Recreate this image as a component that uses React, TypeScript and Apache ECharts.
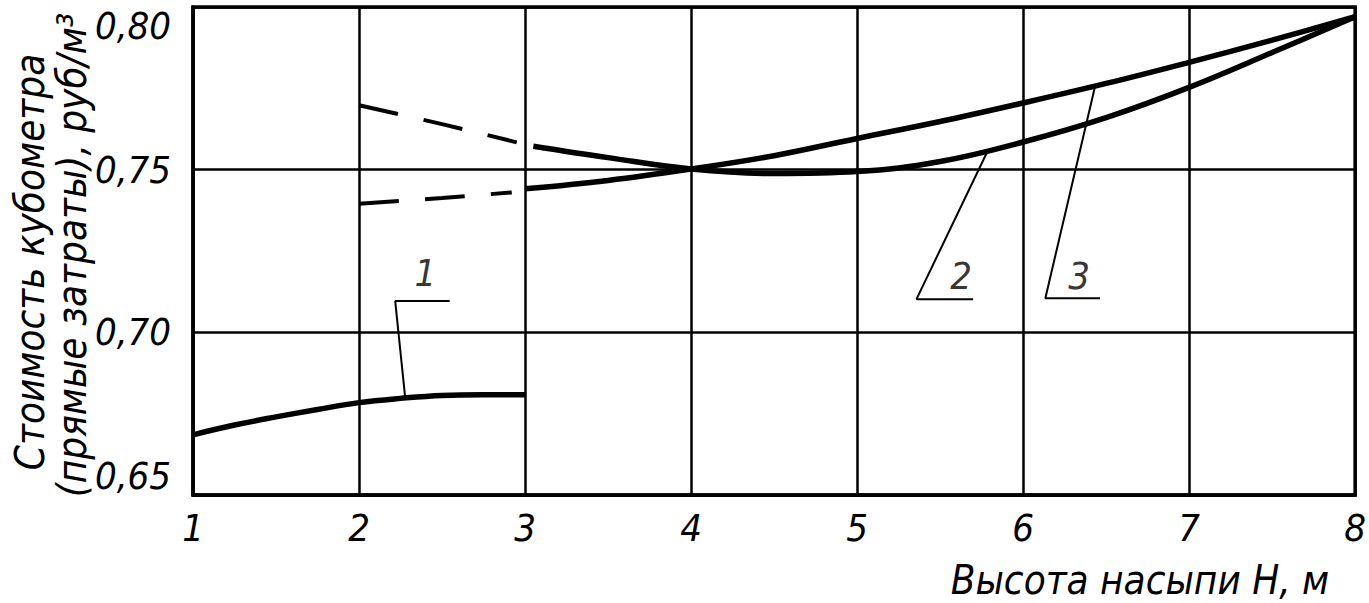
import React, { useEffect, useRef } from "react";
import * as echarts from "echarts";

// Curve 1 (solid)
const curve1: [number, number][] = [
  [1, 0.6685], [1.25, 0.6715], [1.5, 0.674], [1.75, 0.6763], [2, 0.6784],
  [2.25, 0.6797], [2.5, 0.6806], [2.75, 0.6808], [3, 0.6808],
];
// Curve 2: dashed part and solid part
const curve2Dashed: [number, number][] = [[2, 0.7698], [2.5, 0.764], [2.95, 0.7584]];
const curve2Solid: [number, number][] = [
  [3.05, 0.7572], [3.5, 0.7537], [4, 0.7502], [4.5, 0.7488], [5, 0.7494],
  [5.5, 0.7525], [6, 0.7585], [6.5, 0.766], [7, 0.7753], [7.5, 0.786], [8, 0.797],
];
// Curve 3: dashed part and solid part
const curve3Dashed: [number, number][] = [[2, 0.7395], [2.5, 0.7413], [2.92, 0.743]];
const curve3Solid: [number, number][] = [
  [3, 0.7441], [3.5, 0.7467], [4, 0.7502], [4.5, 0.7543], [5, 0.7596],
  [5.5, 0.7648], [6, 0.7705], [6.5, 0.7765], [7, 0.783], [7.5, 0.7898], [8, 0.797],
];
// Leader lines for curve labels: curve point -> corner -> end of shelf
const leader1: [number, number][] = [[2.278, 0.6800], [2.218, 0.7096], [2.546, 0.7096]];
const leader2: [number, number][] = [[5.788, 0.7559], [5.358, 0.7102], [5.699, 0.7102]];
const leader3: [number, number][] = [[6.433, 0.7755], [6.134, 0.7105], [6.463, 0.7105]];
const curveLabels: { name: string; pos: [number, number] }[] = [
  { name: "1", pos: [2.40, 0.7182] },
  { name: "2", pos: [5.627, 0.7173] },
  { name: "3", pos: [6.337, 0.7173] },
];

const xTicks = { min: 1, max: 8, interval: 1 };
const yTicks = { min: 0.65, max: 0.8, interval: 0.05 };
const yTitle1 = "Стоимость кубометра";
const yTitle2 = "(прямые затраты), руб/м³";
const xTitle = "Высота насыпи H, м";

const FONT = "'Liberation Sans Narrow', 'DejaVu Sans Condensed', sans-serif";

export default function App() {
  const ref = useRef<HTMLDivElement>(null);
  useEffect(() => {
    if (!ref.current) return;
    const chart = echarts.init(ref.current, undefined, { renderer: "svg" });
    const solid = (data: [number, number][]) => ({
      type: "line",
      data,
      smooth: 0.4,
      symbol: "none",
      lineStyle: { color: "#000", width: 5.5 },
      z: 5,
    });
    const dashed = (data: [number, number][]) => ({
      type: "line",
      data,
      smooth: 0.3,
      symbol: "none",
      lineStyle: { color: "#000", width: 4, type: [40, 26] },
      z: 5,
    });
    const leader = (data: [number, number][]) => ({
      type: "line",
      data,
      symbol: "none",
      lineStyle: { color: "#000", width: 2 },
      z: 4,
    });
    chart.setOption({
      animation: false,
      backgroundColor: "#fff",
      grid: {
        left: 193, right: 3, top: 7, bottom: 108,
        show: true, borderColor: "#000", borderWidth: 3.5,
      },
      xAxis: {
        type: "value",
        min: xTicks.min, max: xTicks.max, interval: xTicks.interval,
        axisLine: { show: true, lineStyle: { color: "#000", width: 3.5 } },
        axisTick: { show: false },
        splitLine: { show: true, lineStyle: { color: "#000", width: 2.5 } },
        axisLabel: {
          color: "#000", fontSize: 38, fontStyle: "italic", fontFamily: FONT, margin: 14,
        },
      },
      yAxis: {
        type: "value",
        min: yTicks.min, max: yTicks.max, interval: yTicks.interval,
        axisLine: { show: true, lineStyle: { color: "#000", width: 3.5 } },
        axisTick: { show: false },
        splitLine: { show: true, lineStyle: { color: "#000", width: 2.5 } },
        axisLabel: {
          color: "#000", fontSize: 38, fontStyle: "italic", fontFamily: FONT, margin: 22,
          formatter: (v: number) => v.toFixed(2).replace(".", ","),
          verticalAlignMaxLabel: "top",
          verticalAlignMinLabel: "bottom",
        },
      },
      series: [
        solid(curve1),
        dashed(curve2Dashed),
        solid(curve2Solid),
        dashed(curve3Dashed),
        solid(curve3Solid),
        leader(leader1),
        leader(leader2),
        leader(leader3),
        {
          type: "scatter",
          symbolSize: 0,
          data: curveLabels.map((l) => ({ value: l.pos, name: l.name })),
          label: {
            show: true, position: "inside", formatter: "{b}",
            color: "#000", fontSize: 38, fontStyle: "italic", fontFamily: FONT,
          },
          z: 6,
        },
      ],
      graphic: [
        {
          type: "text", x: 30, y: 262, rotation: Math.PI / 2,
          style: {
            text: yTitle1, fill: "#000", font: `italic 40px ${FONT}`,
            textAlign: "center", textVerticalAlign: "middle",
          },
        },
        {
          type: "text", x: 72, y: 255, rotation: Math.PI / 2,
          style: {
            text: yTitle2, fill: "#000", font: `italic 40px ${FONT}`,
            textAlign: "center", textVerticalAlign: "middle",
          },
        },
        {
          type: "text", x: 1140, y: 580,
          style: {
            text: xTitle, fill: "#000", font: `italic 40px ${FONT}`,
            textAlign: "center", textVerticalAlign: "middle",
          },
        },
      ],
    });
    return () => chart.dispose();
  }, []);
  return (
    <div
      ref={ref}
      style={{ position: "absolute", left: 0, top: 0, width: 1369, height: 603, background: "#fff" }}
    />
  );
}
